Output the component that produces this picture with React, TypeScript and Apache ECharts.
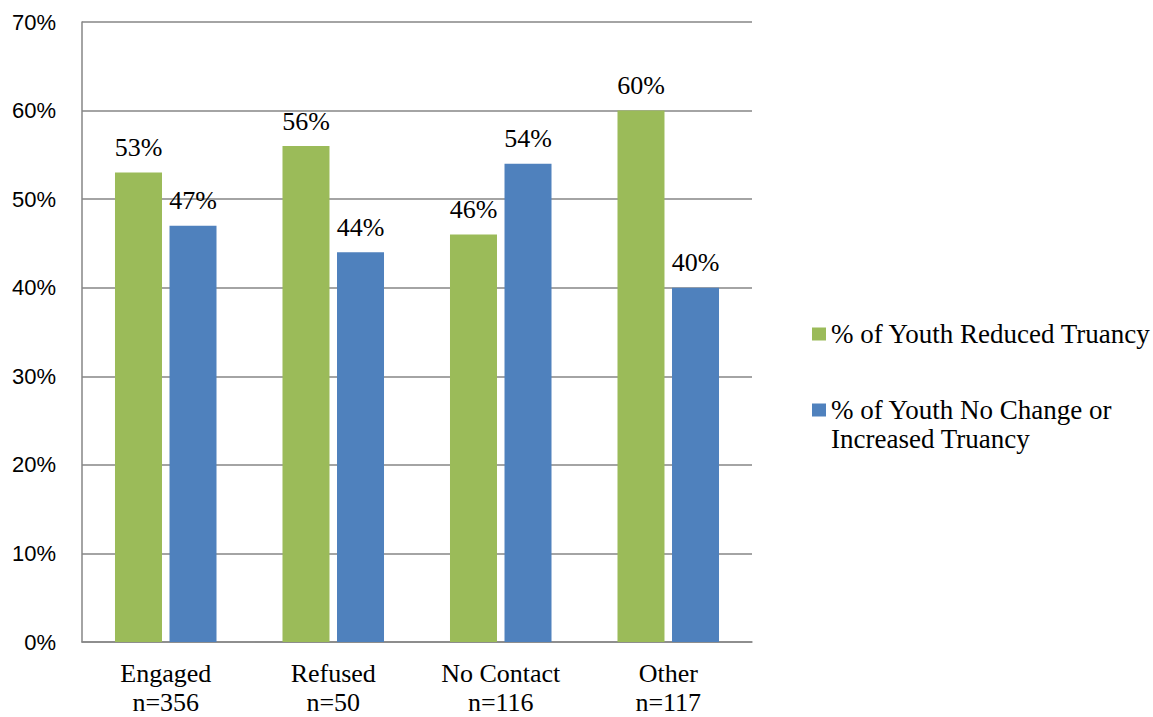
import React, { useEffect, useRef } from "react";
import * as echarts from "echarts";

// Contact outcome groups and their sample sizes
const categories = ["Engaged", "Refused", "No Contact", "Other"];
const sampleSizes = [356, 50, 116, 117];

// Share of youth (in %) per outcome
const seriesNames = [
  "% of Youth Reduced Truancy",
  "% of Youth No Change or Increased Truancy",
];
const reducedTruancy = [53, 56, 46, 60];
const noChangeOrIncreased = [47, 44, 54, 40];

const yTicks = { min: 0, max: 70, interval: 10 };

const SERIF = "Liberation Serif";
const SANS = "Liberation Sans";
const GREEN = "#9BBB59";
const BLUE = "#4F81BD";
const GRID_GREY = "#868686";

const BAR_WIDTH = 47;
const BAR_GAP = 0.16; // fraction of the bar width between the two bars of a group

// Value labels placed above each bar, centred on it
const valueLabelSeries = (values: number[], side: number) => ({
  type: "custom",
  silent: true,
  z: 5,
  clip: false,
  data: values.map((v, i) => [i, v]),
  encode: { x: 0, y: 1 },
  renderItem: (_params: any, api: any) => {
    const v = api.value(1);
    const pt = api.coord([api.value(0), v]);
    const offset = (side * BAR_WIDTH * (1 + BAR_GAP)) / 2;
    return {
      type: "text",
      x: pt[0] + offset,
      y: pt[1] - 12,
      style: {
        text: `${v}%`,
        font: `26px ${SERIF}`,
        fontFamily: SERIF,
        fontSize: 26,
        fill: "#000",
        align: "center",
        verticalAlign: "bottom",
      },
    };
  },
});

export default function App() {
  const ref = useRef<HTMLDivElement>(null);

  useEffect(() => {
    if (!ref.current) return;
    const chart = echarts.init(ref.current, undefined, { renderer: "svg" });

    const legendText = {
      color: "#000",
      fontFamily: SERIF,
      fontSize: 27,
      lineHeight: 29,
    };

    chart.setOption({
      animation: false,
      backgroundColor: "#fff",
      grid: { left: 82, right: 401, top: 22, bottom: 74, containLabel: false },
      xAxis: {
        type: "category",
        data: categories.map((c, i) => `${c}\nn=${sampleSizes[i]}`),
        axisTick: { show: false },
        axisLine: { lineStyle: { color: GRID_GREY, width: 1.5 } },
        axisLabel: {
          color: "#000",
          fontFamily: SERIF,
          fontSize: 26,
          lineHeight: 29,
          margin: 17,
        },
      },
      yAxis: {
        type: "value",
        min: yTicks.min,
        max: yTicks.max,
        interval: yTicks.interval,
        axisLine: { show: true, lineStyle: { color: GRID_GREY, width: 1.5 } },
        axisTick: { show: false },
        splitLine: { lineStyle: { color: GRID_GREY, width: 1.5 } },
        axisLabel: {
          formatter: "{value}%",
          color: "#000",
          fontFamily: SANS,
          fontSize: 22,
          margin: 26,
        },
      },
      legend: [
        {
          data: [seriesNames[0]],
          orient: "vertical",
          left: 812,
          top: 319.5,
          padding: 0,
          itemWidth: 14,
          itemHeight: 13,
          itemGap: 0,
          icon: "rect",
          textStyle: legendText,
        },
        {
          // blank first line keeps the marker level with the first text line
          data: [seriesNames[1]],
          orient: "vertical",
          left: 812,
          top: 366.5,
          padding: 0,
          itemWidth: 14,
          itemHeight: 13,
          itemGap: 0,
          icon: "rect",
          formatter: () => " \n% of Youth No Change or\nIncreased Truancy",
          textStyle: legendText,
        },
      ],
      series: [
        {
          name: seriesNames[0],
          type: "bar",
          data: reducedTruancy,
          barWidth: BAR_WIDTH,
          barGap: `${BAR_GAP * 100}%`,
          itemStyle: { color: GREEN },
        },
        {
          name: seriesNames[1],
          type: "bar",
          data: noChangeOrIncreased,
          barWidth: BAR_WIDTH,
          barGap: `${BAR_GAP * 100}%`,
          itemStyle: { color: BLUE },
        },
        valueLabelSeries(reducedTruancy, -1),
        valueLabelSeries(noChangeOrIncreased, 1),
      ],
    });

    return () => chart.dispose();
  }, []);

  return (
    <div
      ref={ref}
      style={{
        position: "fixed",
        left: 0,
        top: 0,
        width: 1153,
        height: 717,
        background: "#fff",
      }}
    />
  );
}
